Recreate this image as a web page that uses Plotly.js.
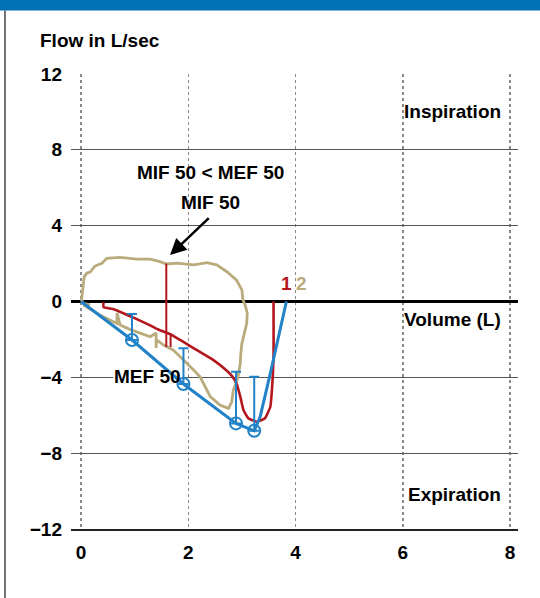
<!DOCTYPE html>
<html>
<head>
<meta charset="utf-8">
<script src="https://cdn.plot.ly/plotly-3.0.1.min.js"></script>
<style>html,body{margin:0;padding:0;background:#fff;}#chart{width:540px;height:598px;}</style>
</head>
<body>
<div id="chart"></div>
<script>
// ---- data ----
var tanX = [0.17,0.04,0.01,0.04,0.06,0.11,0.17,0.26,0.39,0.48,0.73,1.04,1.29,1.47,1.60,1.79,2.10,2.35,2.53,2.72,2.90,3.00,3.02,3.06,3.10,3.09,3.04,3.00,2.98,2.97,2.94,2.90,2.84,2.81,2.75,2.59,2.41,2.35,2.28,2.22,2.10,1.97,1.85,1.72,1.54,1.41,1.40,1.40,1.29,1.10,0.91,0.73,0.67,0.67,0.54,0.35,0.20,0.04];
var tanY = [-0.18,-0.10,0.08,0.78,1.31,1.50,1.55,1.87,2.02,2.28,2.33,2.24,2.23,2.10,1.98,2.02,1.93,2.05,1.93,1.57,1.13,0.61,0.08,-0.18,-0.62,-1.15,-1.68,-2.21,-2.73,-3.26,-3.79,-4.23,-4.67,-5.29,-5.64,-5.46,-5.02,-4.67,-4.32,-3.97,-3.61,-3.26,-2.91,-2.56,-2.30,-2.03,-2.45,-1.66,-1.86,-1.68,-1.47,-1.24,-0.60,-1.16,-0.98,-0.71,-0.45,-0.18];
var redX = [0.42,0.42,0.60,0.79,1.00,1.26,1.44,1.66,1.85,2.16,2.47,2.72,2.82,2.90,2.97,3.03,3.12,3.28,3.43,3.53,3.56,3.59,3.59];
var redY = [-0.05,-0.30,-0.40,-0.62,-0.88,-1.22,-1.48,-1.72,-2.03,-2.56,-3.09,-3.65,-3.95,-4.32,-5.02,-5.73,-6.16,-6.34,-6.16,-5.55,-4.67,-2.91,0.00];
var mifX = [1.59,1.59];
var mifY = [2.00,-2.40];
var tickX = [1.67,1.67];
var tickY = [-1.70,-2.40];
var blueX = [0.00,0.95,1.91,2.89,3.23,3.34,3.53,3.71,3.83];
var blueY = [0.00,-2.03,-4.35,-6.43,-6.82,-6.08,-3.79,-1.50,0.00];
var meanX = [0.95,1.91,2.89,3.23];
var meanY = [-2.03,-4.35,-6.43,-6.82];
var errUp = [1.37,1.88,2.73,2.85];
var errDown = [0,0,0,0];
var xTicks = [0,2,4,6,8];
var yTicks = [-12,-8,-4,0,4,8,12];

var RED = '#b3161c', TAN = '#b9ab7c', BLUE = '#2182c8';
var FONT = 'Liberation Sans, Arial, sans-serif';
var FS = 19;

var traces = [
  {x: tanX, y: tanY, mode: 'lines', line: {color: TAN, width: 2.8}, hoverinfo: 'skip'},
  {x: redX, y: redY, mode: 'lines', line: {color: RED, width: 2.6, shape: 'spline', smoothing: 0.4}, hoverinfo: 'skip'},
  {x: mifX, y: mifY, mode: 'lines', line: {color: RED, width: 2}, hoverinfo: 'skip'},
  {x: tickX, y: tickY, mode: 'lines', line: {color: RED, width: 2}, hoverinfo: 'skip'},
  {x: blueX, y: blueY, mode: 'lines', line: {color: BLUE, width: 3}, hoverinfo: 'skip'},
  {x: meanX, y: meanY, mode: 'markers',
   marker: {symbol: 'circle-open', size: 12, color: BLUE, line: {width: 2, color: BLUE}},
   error_y: {type: 'data', symmetric: false, array: errUp, arrayminus: errDown, color: BLUE, thickness: 2, width: 5},
   hoverinfo: 'skip'}
];

var ann = function(text, x, y, opts) {
  var a = {text: '<b>' + text + '</b>', x: x, y: y, xref: 'x', yref: 'y', showarrow: false,
           font: {family: FONT, size: FS, color: '#000'}};
  for (var k in opts) a[k] = opts[k];
  return a;
};

var layout = {
  width: 540, height: 598,
  margin: {l: 71, r: 22, t: 74, b: 69},
  paper_bgcolor: '#fff', plot_bgcolor: '#fff',
  showlegend: false,
  title: {text: '<b>Flow in L/sec</b>', x: 40/540, xref: 'container', xanchor: 'left',
          y: 1 - 40/598, yref: 'container', yanchor: 'middle',
          font: {family: FONT, size: FS, color: '#000'}},
  xaxis: {range: [-0.187, 8.149], tickvals: xTicks, ticktext: xTicks.map(String), ticks: '',
          showgrid: true, gridcolor: '#8a8a8a', griddash: 'dot', gridwidth: 1.5,
          zeroline: false, showline: true, linecolor: '#222', linewidth: 1.5,
          ticklabelstandoff: 6,
          tickfont: {family: FONT, size: FS, color: '#000', weight: 'bold'}, fixedrange: true},
  yaxis: {range: [-12, 12], tickvals: yTicks, ticks: '',
          showgrid: true, gridcolor: '#555', gridwidth: 1,
          zeroline: true, zerolinecolor: '#000', zerolinewidth: 2.5,
          ticklabelstandoff: 8,
          tickfont: {family: FONT, size: FS, color: '#000', weight: 'bold'}, fixedrange: true},
  shapes: [
    {type: 'rect', xref: 'paper', yref: 'paper', x0: -0.17, x1: 1.06, y0: 1.1396, y1: 1.18,
     fillcolor: '#0071b5', line: {width: 0}, layer: 'above'},
    {type: 'line', xref: 'paper', yref: 'paper', x0: -0.1477, x1: -0.1477, y0: 1.1396, y1: -0.16,
     line: {color: '#444', width: 1.5}},
    {type: 'rect', xref: 'x', yref: 'y', x0: 0.6, x1: 1.88, y0: -4.35, y1: -3.6,
     fillcolor: '#fff', line: {width: 0}, layer: 'between'}
  ],
  annotations: [
    ann('Inspiration', 7.87, 10.04, {xanchor: 'right'}),
    ann('Volume (L)', 7.87, -0.93, {xanchor: 'right'}),
    ann('Expiration', 7.87, -10.16, {xanchor: 'right'}),
    ann('MIF 50 &lt; MEF 50', 2.41, 6.83, {}),
    ann('MIF 50', 2.42, 5.22, {}),
    ann('MEF 50', 1.24, -3.93, {}),
    ann('1', 3.83, 0.95, {font: {family: FONT, size: FS, color: RED}}),
    ann('2', 4.12, 0.95, {font: {family: FONT, size: FS, color: TAN}}),
    {text: '', x: 1.66, y: 2.45, ax: 2.41, ay: 4.47, axref: 'x', ayref: 'y', xref: 'x', yref: 'y',
     showarrow: true, arrowhead: 2, arrowsize: 1.3, arrowwidth: 2.5, arrowcolor: '#000', standoff: 0}
  ]
};

Plotly.newPlot('chart', traces, layout, {staticPlot: true, displayModeBar: false});
</script>
</body>
</html>
